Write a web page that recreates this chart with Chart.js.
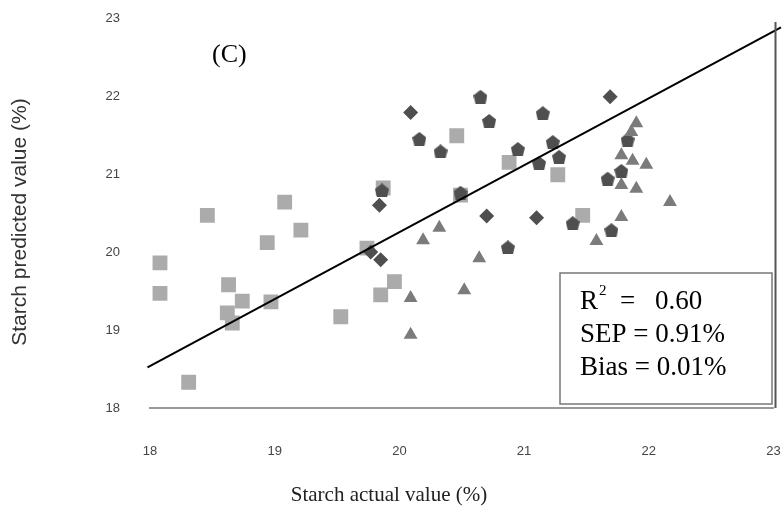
<!DOCTYPE html>
<html>
<head>
<meta charset="utf-8">
<script src="https://cdn.jsdelivr.net/npm/chart.js@4.4.0/dist/chart.umd.min.js"></script>
<style>
  html, body { margin: 0; padding: 0; background: #fff; }
  #wrap { width: 784px; height: 515px; }
</style>
</head>
<body>
<div id="wrap"><canvas id="starchChart" width="784" height="515"></canvas></div>
<script>
// Scatter values (actual %, predicted %)
const squareX = [18.08, 18.08, 18.46, 18.63, 18.74, 18.62, 18.66, 18.31, 18.97, 19.08, 19.21, 18.94, 19.53, 19.85, 19.96, 19.74, 19.87, 20.46, 20.88, 20.49, 21.27, 21.47];
const squareY = [19.86, 19.47, 20.47, 19.58, 19.37, 19.22, 19.09, 18.33, 19.36, 20.64, 20.28, 20.12, 19.17, 19.45, 19.62, 20.05, 20.82, 21.49, 21.15, 20.73, 20.99, 20.47];

const diamondX = [20.09, 19.84, 20.70, 21.69, 21.10, 19.77, 19.85];
const diamondY = [21.79, 20.60, 20.46, 21.99, 20.44, 20.00, 19.90];

const pentaX = [20.65, 20.72, 20.16, 20.33, 20.95, 19.86, 20.49, 20.87, 21.15, 21.23, 21.28, 21.12, 21.67, 21.78, 21.39, 21.70, 21.83];
const pentaY = [21.99, 21.68, 21.45, 21.29, 21.32, 20.79, 20.76, 20.06, 21.78, 21.41, 21.22, 21.14, 20.94, 21.04, 20.37, 20.28, 21.44];

const triX = [20.32, 20.19, 20.64, 20.52, 20.09, 20.09, 21.90, 21.86, 21.78, 21.87, 21.98, 21.78, 21.90, 22.17, 21.78, 21.58];
const triY = [20.31, 20.15, 19.92, 19.51, 19.41, 18.94, 21.65, 21.54, 21.24, 21.17, 21.12, 20.86, 20.81, 20.64, 20.45, 20.14];

// fitted line end points
const fitX = [17.98, 23.06];
const fitY = [18.52, 22.88];

const tickValues = [18, 19, 20, 21, 22, 23];
const statLines = ['SEP = 0.91%', 'Bias = 0.01%'];

function toPoints(xs, ys) {
  return xs.map((x, i) => ({ x: x, y: ys[i] }));
}

// small house shaped marker, Chart.js has no pentagon style
function makePentagon(color) {
  const c = document.createElement('canvas');
  c.width = 14; c.height = 14;
  const g = c.getContext('2d');
  g.fillStyle = color;
  g.beginPath();
  g.moveTo(7, 0);
  g.lineTo(14, 5.5);
  g.lineTo(12, 14);
  g.lineTo(2, 14);
  g.lineTo(0, 5.5);
  g.closePath();
  g.fill();
  return c;
}

// right frame line, axis titles, panel letter and the stats box
const notesPlugin = {
  id: 'notes',
  afterDraw(chart) {
    const ctx = chart.ctx;
    const area = chart.chartArea;
    ctx.save();
    ctx.strokeStyle = '#555';
    ctx.lineWidth = 2;
    ctx.beginPath();
    ctx.moveTo(area.right + 2, area.top + 4);
    ctx.lineTo(area.right + 2, area.bottom);
    ctx.stroke();

    ctx.fillStyle = '#222';
    ctx.textBaseline = 'middle';
    ctx.textAlign = 'center';
    ctx.font = '21px "Liberation Serif"';
    ctx.fillText('Starch actual value (%)', 389, 495);

    ctx.save();
    ctx.translate(20, 222);
    ctx.rotate(-Math.PI / 2);
    ctx.font = '21px "Liberation Sans"';
    ctx.fillStyle = '#333';
    ctx.fillText('Starch predicted value (%)', 0, 0);
    ctx.restore();

    ctx.textAlign = 'left';
    ctx.fillStyle = '#000';
    ctx.font = '26px "Liberation Serif"';
    ctx.fillText('(C)', 212, 55);

    ctx.strokeStyle = '#777';
    ctx.lineWidth = 1.5;
    ctx.strokeRect(560, 273, 212, 131);

    ctx.font = '27px "Liberation Serif"';
    ctx.fillText('R', 580, 302);
    ctx.fillText('=', 620, 302);
    ctx.fillText('0.60', 655, 302);
    ctx.font = '15px "Liberation Serif"';
    ctx.fillText('2', 599, 291);
    ctx.font = '27px "Liberation Serif"';
    statLines.forEach((t, i) => ctx.fillText(t, 580, 335 + i * 33));
    ctx.restore();
  }
};

const ctx = document.getElementById('starchChart').getContext('2d');

new Chart(ctx, {
  type: 'scatter',
  data: {
    datasets: [
      {
        type: 'line',
        data: toPoints(fitX, fitY),
        borderColor: '#000',
        borderWidth: 2,
        pointRadius: 0,
        fill: false,
        clip: false,
        order: 0,
      },
      {
        data: toPoints(triX, triY),
        pointStyle: 'triangle',
        pointRadius: 8,
        backgroundColor: '#7b7b7b',
        borderColor: '#7b7b7b',
        borderWidth: 0,
        order: 1,
      },
      {
        data: toPoints(pentaX, pentaY),
        pointStyle: makePentagon('#4f4f4f'),
        order: 2,
      },
      {
        data: toPoints(diamondX, diamondY),
        pointStyle: 'rectRot',
        pointRadius: 7.5,
        backgroundColor: '#4f4f4f',
        borderColor: '#4f4f4f',
        borderWidth: 0,
        order: 3,
      },
      {
        data: toPoints(squareX, squareY),
        pointStyle: 'rect',
        pointRadius: 10.5,
        backgroundColor: '#ababab',
        borderColor: '#ababab',
        borderWidth: 0,
        order: 4,
      },
    ],
  },
  options: {
    responsive: false,
    animation: false,
    layout: { padding: { top: 18, right: 8, left: 0, bottom: 0 } },
    plugins: {
      legend: { display: false },
      tooltip: { enabled: false },
    },
    scales: {
      x: {
        type: 'linear',
        min: 18,
        max: 23,
        afterBuildTicks: (s) => { s.ticks = tickValues.map(v => ({ value: v })); },
        afterFit: (s) => {
          s.height = 107;
          s.paddingLeft = 0;
          s.paddingRight = 0;
        },
        grid: { display: false },
        border: { display: true, color: '#999', width: 2 },
        ticks: {
          padding: 28,
          color: '#444',
          font: { family: 'Liberation Sans', size: 13 },
        },
      },
      y: {
        type: 'linear',
        min: 18,
        max: 23,
        afterBuildTicks: (s) => { s.ticks = tickValues.map(v => ({ value: v })); },
        afterFit: (s) => {
          s.width = 150;
          s.paddingTop = 0;
          s.paddingBottom = 0;
        },
        grid: { display: false },
        border: { display: false },
        ticks: {
          padding: 22,
          color: '#444',
          font: { family: 'Liberation Sans', size: 13 },
        },
      },
    },
  },
  plugins: [notesPlugin],
});
</script>
</body>
</html>
